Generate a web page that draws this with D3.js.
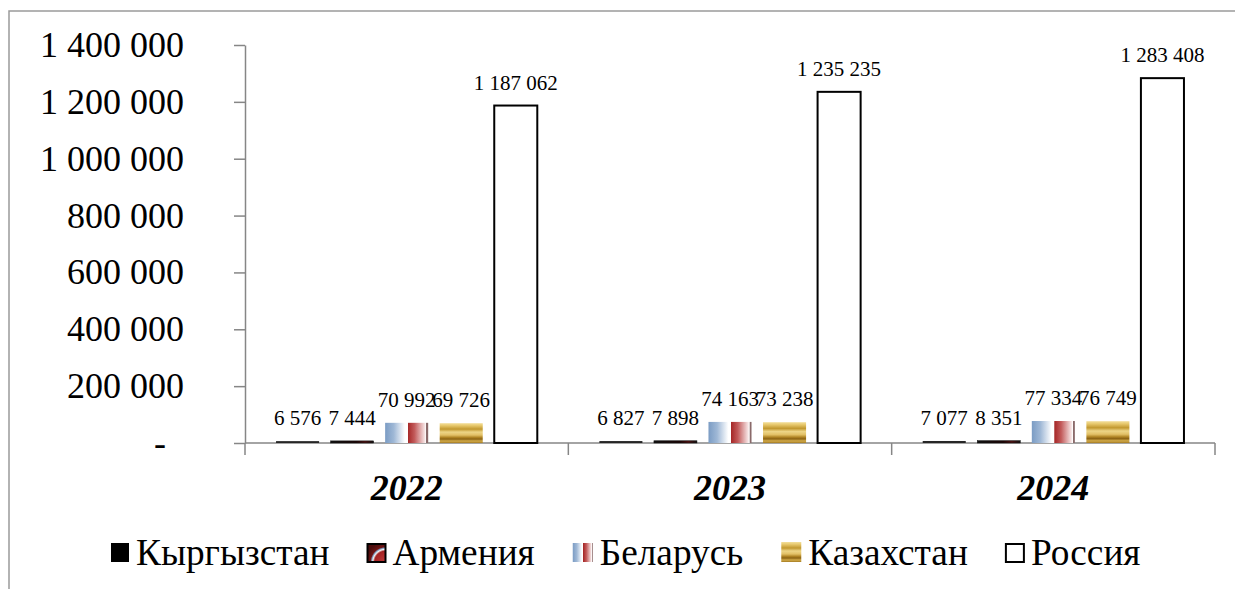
<!DOCTYPE html>
<html>
<head>
<meta charset="utf-8">
<script src="https://cdn.jsdelivr.net/npm/d3@7"></script>
<style>
  body { margin: 0; background: #fff; }
  svg { display: block; }
</style>
</head>
<body>
<svg id="chart"></svg>
<script>
// data
const years = ["2022", "2023", "2024"];
const countries = ["Кыргызстан", "Армения", "Беларусь", "Казахстан", "Россия"];
const kyrgyzstan = [6576, 6827, 7077];
const armenia = [7444, 7898, 8351];
const belarus = [70992, 74163, 77334];
const kazakhstan = [69726, 73238, 76749];
const russia = [1187062, 1235235, 1283408];
const yTicks = [0, 200000, 400000, 600000, 800000, 1000000, 1200000, 1400000];

const seriesValues = [kyrgyzstan, armenia, belarus, kazakhstan, russia];

const width = 1235, height = 589;
const plot = {left: 245, right: 1215, top: 45, bottom: 443};
const serif = 'Liberation Serif';

const svg = d3.select('#chart')
    .attr('width', width)
    .attr('height', height)
    .attr('font-family', serif);

// fills
const defs = svg.append('defs');

// armenia: dark red texture with a light arc (legend), nearly black on the thin bars
const gArm = defs.append('radialGradient').attr('id', 'fill-arm')
    .attr('cx', '100%').attr('cy', '100%').attr('r', '110%').attr('fx', '100%').attr('fy', '100%');
[[0, '#c23a3a'], [0.55, '#a42222'], [0.64, '#f4f4f4'], [0.7, '#7f9dc4'], [0.76, '#6e1414'], [1, '#4a0c0c']]
    .forEach(s => gArm.append('stop').attr('offset', s[0]).attr('stop-color', s[1]));
const gArmBar = defs.append('linearGradient').attr('id', 'fill-arm-bar')
    .attr('x1', 0).attr('x2', 1).attr('y1', 0).attr('y2', 0);
[[0, '#111'], [0.6, '#1a0505'], [0.8, '#4a1010'], [1, '#111']]
    .forEach(s => gArmBar.append('stop').attr('offset', s[0]).attr('stop-color', s[1]));

const gBel = defs.append('linearGradient').attr('id', 'fill-bel')
    .attr('x1', 0).attr('x2', 1).attr('y1', 0).attr('y2', 0);
[[0, '#7b9cc4'], [0.2, '#9fb8d6'], [0.46, '#ffffff'], [0.52, '#ffffff'], [0.53, '#a62828'],
 [0.68, '#c25a5a'], [0.92, '#f6e4e4'], [0.95, '#ffffff'], [0.96, '#8a6a6a'], [1, '#8a6a6a']]
    .forEach(s => gBel.append('stop').attr('offset', s[0]).attr('stop-color', s[1]));

const gKaz = defs.append('linearGradient').attr('id', 'fill-kaz')
    .attr('x1', 0).attr('x2', 0).attr('y1', 0).attr('y2', 1);
[[0, '#f3df9c'], [0.12, '#e7c86c'], [0.3, '#c2982f'], [0.45, '#edd587'], [0.6, '#e2c066'],
 [0.72, '#b08424'], [0.8, '#8c6314'], [0.9, '#d2ab4a'], [1, '#a67c22']]
    .forEach(s => gKaz.append('stop').attr('offset', s[0]).attr('stop-color', s[1]));

const barFills = ['#262626', 'url(#fill-arm-bar)', 'url(#fill-bel)', 'url(#fill-kaz)', '#ffffff'];
const legendFills = ['#000', 'url(#fill-arm)', 'url(#fill-bel)', 'url(#fill-kaz)', '#ffffff'];
const strokes = ['none', '#111', 'none', 'none', '#000'];

// outer frame (left and top edges of the chart area)
svg.append('path')
    .attr('d', `M9,${height} V11 H${width}`)
    .attr('fill', 'none')
    .attr('stroke', '#9a9a9a')
    .attr('stroke-width', 1.5);

// scales
const x0 = d3.scaleBand().domain(years).range([plot.left, plot.right]).padding(0);
const x1 = d3.scaleBand().domain(countries).range([0, x0.bandwidth()])
    .paddingInner(0.211).paddingOuter(0.569);
const y = d3.scaleLinear().domain([0, 1400000]).range([plot.bottom, plot.top]);

const fmt = d3.formatLocale({decimal: ',', thousands: ' ', grouping: [3], currency: ['', '']}).format(',d');

// y axis
const yAxis = svg.append('g')
    .attr('transform', `translate(${plot.left},0)`)
    .call(d3.axisLeft(y).tickValues(yTicks).tickSize(11).tickSizeOuter(0).tickPadding(50)
        .tickFormat(d => d === 0 ? '-' : fmt(d)));
yAxis.attr('font-family', serif).attr('font-size', 36);
yAxis.select('.domain').attr('stroke', '#868686').attr('stroke-width', 1.5);
yAxis.selectAll('.tick line').attr('stroke', '#868686').attr('stroke-width', 1.5);
yAxis.selectAll('.tick text')
    .attr('fill', '#000')
    .attr('font-family', serif)
    .attr('font-size', 36);
yAxis.selectAll('.tick text').filter(d => d === 0).attr('dx', -18);

// x axis: baseline plus category boundary ticks
const xAxis = svg.append('g');
xAxis.append('line')
    .attr('x1', plot.left).attr('x2', plot.right)
    .attr('y1', plot.bottom).attr('y2', plot.bottom)
    .attr('stroke', '#868686').attr('stroke-width', 1.5);
const bounds = years.map(d => x0(d)).concat([x0(years[years.length - 1]) + x0.bandwidth()]);
xAxis.selectAll('.xtick').data(bounds).join('line')
    .attr('class', 'xtick')
    .attr('x1', d => d).attr('x2', d => d)
    .attr('y1', plot.bottom).attr('y2', plot.bottom + 12)
    .attr('stroke', '#868686').attr('stroke-width', 1.5);
xAxis.selectAll('.ylab').data(years).join('text')
    .attr('class', 'ylab')
    .attr('x', d => x0(d) + x0.bandwidth() / 2)
    .attr('y', 500)
    .attr('text-anchor', 'middle')
    .attr('font-family', serif)
    .attr('font-size', 36)
    .attr('font-weight', 'bold')
    .attr('font-style', 'italic')
    .text(d => d);

// bars
const rows = [];
years.forEach((yr, i) => {
    countries.forEach((c, j) => {
        rows.push({year: yr, country: c, idx: j, value: seriesValues[j][i]});
    });
});

const groups = svg.append('g');
groups.selectAll('rect.bar').data(rows).join('rect')
    .attr('class', 'bar')
    .attr('x', d => x0(d.year) + x1(d.country))
    .attr('width', x1.bandwidth())
    .attr('y', d => y(d.value))
    .attr('height', d => y(0) - y(d.value))
    .attr('fill', d => barFills[d.idx])
    .attr('stroke', d => strokes[d.idx])
    .attr('stroke-width', d => d.idx === 4 ? 2 : 0.5);

groups.selectAll('text.val').data(rows).join('text')
    .attr('class', 'val')
    .attr('x', d => x0(d.year) + x1(d.country) + x1.bandwidth() / 2)
    .attr('y', d => y(d.value) - 16)
    .attr('text-anchor', 'middle')
    .attr('font-family', serif)
    .attr('font-size', 21)
    .text(d => fmt(d.value));

// legend
const swatches = [
    {w: 18, h: 19, dy: 0},
    {w: 18, h: 18, dy: 1},
    {w: 20, h: 19, dy: 0},
    {w: 20, h: 20, dy: -1},
    {w: 18, h: 18, dy: 1}
];
const legend = svg.append('g');
let lx = 111;
const ly = 543;
countries.forEach((c, j) => {
    const s = swatches[j];
    legend.append('rect')
        .attr('x', lx).attr('y', ly + s.dy)
        .attr('width', s.w).attr('height', s.h)
        .attr('fill', legendFills[j])
        .attr('stroke', j === 1 || j === 4 ? '#000' : 'none')
        .attr('stroke-width', 2);
    const t = legend.append('text')
        .attr('x', lx + s.w + 7)
        .attr('y', 565)
        .attr('font-family', serif)
        .attr('font-size', 37.3)
        .text(c);
    lx = lx + s.w + 7 + t.node().getComputedTextLength() + 38;
});
</script>
</body>
</html>
